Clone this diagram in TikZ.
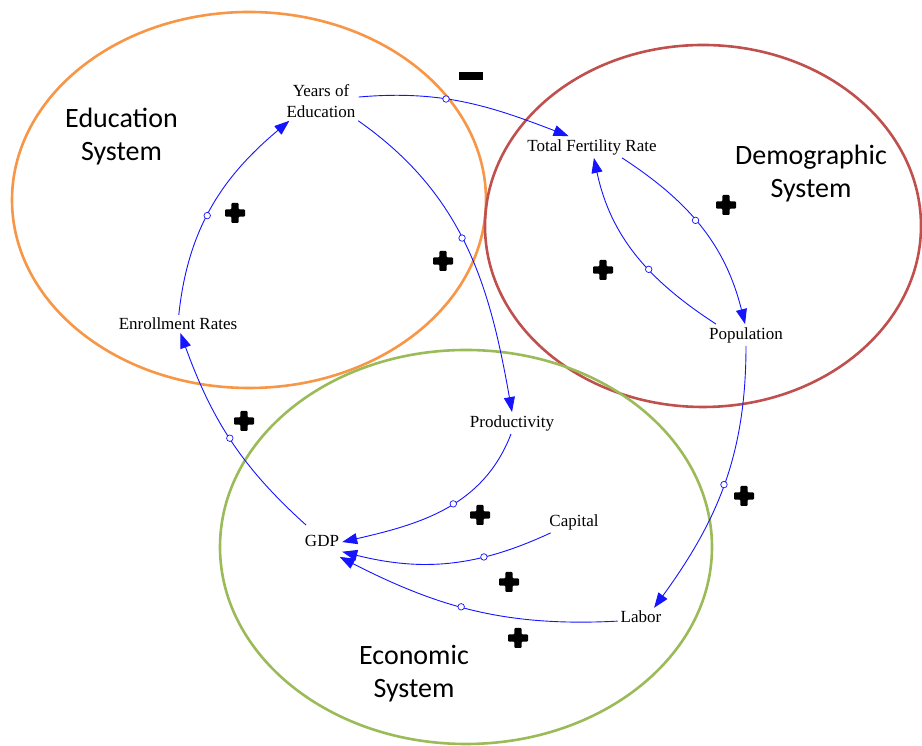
\documentclass[tikz,border=0pt]{standalone}
\usepackage{fontspec}
\setmainfont{Liberation Serif}
\newfontfamily\sysfont{Carlito}
\usetikzlibrary{arrows.meta}
\definecolor{eduorange}{RGB}{247,150,70}
\definecolor{demored}{RGB}{192,80,77}
\definecolor{ecogreen}{RGB}{155,187,89}
\definecolor{linkblue}{RGB}{20,20,255}

\begin{document}
\begin{tikzpicture}[x=1pt,y=1pt,
  var/.style={font=\fontsize{17}{21}\selectfont, inner sep=3pt, align=center},
  sys/.style={font=\sysfont\fontsize{28}{33}\selectfont, align=center},
  link/.style={draw=linkblue, line width=0.9pt, -{Triangle[length=15pt,width=11pt]}},
  mk/.style={circle, draw=linkblue, fill=white, line width=0.7pt, inner sep=0pt, minimum size=6.5pt},
  ring/.style={line width=2.6pt},
  plussign/.pic={\fill[rounded corners=1pt] (-10,-3.6) -- (-3.6,-3.6) -- (-3.6,-10) -- (3.6,-10) -- (3.6,-3.6) -- (10,-3.6) -- (10,3.6) -- (3.6,3.6) -- (3.6,10) -- (-3.6,10) -- (-3.6,3.6) -- (-10,3.6) -- cycle;},
  minussign/.pic={\fill (-12,-4) rectangle (12,4);}
]
\useasboundingbox (0,0) rectangle (922,746);

% the three subsystems
\draw[ring, eduorange] (249,546) ellipse [x radius=237, y radius=188];
\draw[ring, demored]   (703,520) ellipse [x radius=218, y radius=181];
\draw[ring, ecogreen]  (466,199) ellipse [x radius=246, y radius=197];

\node[sys] (edu) at (121.5,609) {Education\\System};
\node[sys] (demo) at (811,572) {Demographic\\System};
\node[sys] (eco) at (414,72) {Economic\\System};

% variables
\node[var] (yoe)  at (321,645) {Years of\\Education};
\node[var] (tfr)  at (592,599) {Total Fertility Rate};
\node[var] (enr)  at (178,422) {Enrollment Rates};
\node[var] (pop)  at (746,411) {Population};
\node[var] (prod) at (512,323) {Productivity};
\node[var] (cap)  at (574,224) {Capital};
\node[var, inner ysep=10pt] (gdp) at (322,205) {GDP};
\node[var] (lab)  at (641,129) {Labor};

% causal links
\draw[link] (yoe.6) to[out=5,in=159] node[mk,pos=0.4](m1){} (tfr.155);
\draw[link] (yoe.-28) to[out=-35,in=100] node[mk,pos=0.47](m2){} (prod.north);
\draw[link] (enr.85) to[out=84,in=220] node[mk,pos=0.45](m3){} (yoe.212);
\draw[link] (gdp.135) to[out=138,in=290] node[mk,pos=0.5](m4){} (enr.-75);
\draw[link] (tfr.-20) to[out=-33,in=104] node[mk,pos=0.45](m5){} (pop.95);
\draw[link] (pop.160) to[out=147,in=282] node[mk,pos=0.4](m6){} (tfr.-80);
\draw[link] (pop.south) to[out=-90,in=54] node[mk,pos=0.5](m7){} (lab.35);
\draw[link] (prod.-95) to[out=-111,in=13] node[mk,pos=0.45](m8){} (gdp.-3);
\draw[link] (cap.205) to[out=205,in=346] node[mk,pos=0.32](m9){} (gdp.-28);
\draw[link] (lab.190) to[out=183,in=333] node[mk,pos=0.55](m10){} (gdp.-42);

% polarities
\pic at (471,670) {minussign};
\pic at (235,533) {plussign};
\pic at (443,485) {plussign};
\pic at (726,541) {plussign};
\pic at (603,476) {plussign};
\pic at (244,325) {plussign};
\pic at (480,231) {plussign};
\pic at (509,164) {plussign};
\pic at (518,108) {plussign};
\pic at (744,250) {plussign};
\end{tikzpicture}
\end{document}
